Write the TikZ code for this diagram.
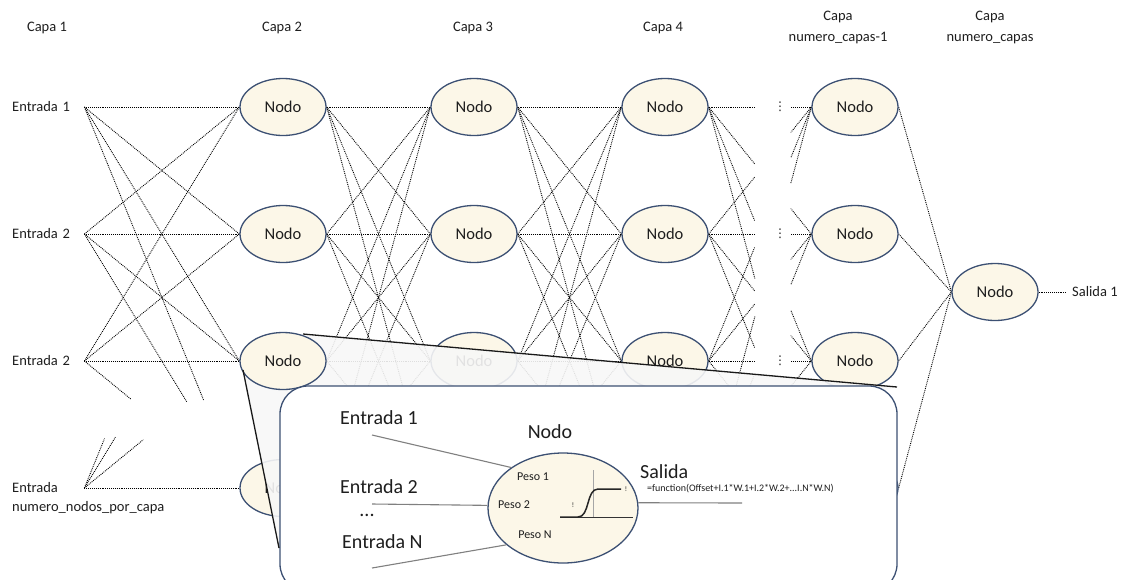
\documentclass[tikz,border=0pt]{standalone}
\usepackage{fontspec}
\setmainfont{Carlito}
\newfontfamily\simbolos{DejaVu Sans}
\usetikzlibrary{calc,shapes.geometric}
\pgfdeclarelayer{fondo}
\pgfsetlayers{fondo,main}
\definecolor{crema}{RGB}{252,247,232}
\definecolor{borde}{RGB}{60,80,115}
\definecolor{texto}{RGB}{30,30,30}
\tikzset{
  nodo/.style={ellipse, draw=borde, fill=crema, line width=1.3pt, minimum width=86pt, minimum height=57pt, inner sep=0pt, text=texto, font=\fontsize{16.5}{16.5}\selectfont},
  capa/.style={inner sep=0pt, align=center, text=texto, font=\fontsize{14.5}{21}\selectfont},
  entrada/.style={inner sep=0pt, anchor=west, text width=72pt, align=left, text=texto, font=\fontsize{14.5}{17}\selectfont},
  conexion/.style={densely dotted, line width=0.9pt, black},
  puntos/.style={inner sep=0pt, text=texto, font=\simbolos\fontsize{12}{12}\selectfont},
  lupa/.style={fill=black!3, fill opacity=0.9},
  lupaborde/.style={line width=1.3pt, black!90},
  caja/.style={draw=borde, line width=1.3pt, fill=white, rounded corners=28pt},
  grande/.style={inner sep=0pt, text=texto, font=\fontsize{20}{20}\selectfont},
  gris/.style={line width=1.1pt, black!50}
}

\begin{document}
\begin{tikzpicture}[x=1pt, y=-1pt]
  \useasboundingbox (0,0) rectangle (1126,579);
  \clip (0,0) rectangle (1126,579);
  %%%%% TITULOS %%%%%
  \node[capa] (c1) at (47,28) {Capa 1};
  \node[capa] (c2) at (282,28) {Capa 2};
  \node[capa] (c3) at (473,28) {Capa 3};
  \node[capa] (c4) at (663,28) {Capa 4};
  \node[capa] (c5) at (838,27) {Capa\\numero\_capas-1};
  \node[capa] (c6) at (990,27) {Capa\\numero\_capas};

  %%%%% ENTRADAS %%%%%
  \node[entrada] (in1) at (12,107) {Entrada 1};
  \node[entrada] (in2) at (12,234) {Entrada 2};
  \node[entrada] (in3) at (12,361) {Entrada 2};
  \node[entrada] (in4) at (12,488) {Entrada};
  \node[entrada, text width=] (in4b) at (12,508) {numero\_nodos\_por\_capa};

  %%%%% NODOS %%%%%
  \node[nodo] (n21) at (283,107) {Nodo};
  \node[nodo] (n22) at (283,234) {Nodo};
  \node[nodo] (n24) at (283,488) {Nodo};
  \foreach \c/\x in {3/474,4/665,5/855}{
    \foreach \r/\y in {1/107,2/234,3/361}{
      \node[nodo] (n\c\r) at (\x,\y) {Nodo};
    }
    % fila oculta bajo el detalle
    \node[nodo] (n\c4) at (\x,488) {};
  }
  \node[nodo] (out) at (995,292) {Nodo};
  \node[capa, anchor=west] (sal) at (1072,292) {Salida 1};
  \node[puntos] (p1) at (780,107) {⋮};
  \node[puntos] (p2) at (780,234) {⋮};
  \node[puntos] (p3) at (780,361) {⋮};

  %%%%% LUPA %%%%%
  \fill[lupa] (243,370) -- (303,334) -- (897,387) -- (279,548) -- cycle;
  \node[nodo] (n23) at (283,361) {Nodo};

  %%%%% CONEXIONES %%%%%
  \begin{pgfonlayer}{fondo}
    \foreach \i in {1,2,3}{
      \foreach \j in {1,2,3}{
        \draw[conexion] (in\i.east) -- (n2\j.west);
      }
    }
    \draw[conexion] (in1.east) -- ($(in1.east)!0.77!(n24.west)$);
    \draw[conexion] (in2.east) -- ($(in2.east)!0.66!(n24.west)$);
    \draw[conexion] (in3.east) -- ($(in3.east)!0.3!(n24.west)$);
    \draw[conexion] (in4.east) -- (n24.west);
    \foreach \j/\f in {1/0.13,2/0.2,3/0.38}{
      \draw[conexion] (in4.east) -- ($(in4.east)!\f!(n2\j.west)$);
    }
    \foreach \a/\b in {2/3,3/4}{
      \foreach \i in {1,...,4}{
        \foreach \j in {1,...,4}{
          \draw[conexion] (n\a\i.east) -- (n\b\j.west);
        }
      }
    }
    \foreach \i in {1,...,4}{
      \foreach \j in {1,...,4}{
        \draw[conexion] (n4\i.east) -- ($(n4\i.east)!0.45!(n5\j.west)$);
        \draw[conexion] (n5\j.west) -- ($(n5\j.west)!0.2!(n4\i.east)$);
      }
    }
    \foreach \j in {1,...,4}{
      \draw[conexion] (n5\j.east) -- (out.west);
    }
    \draw[conexion, shorten >=5pt] (out.east) -- (sal.west);
  \end{pgfonlayer}

  %%%%% DETALLE DEL NODO %%%%%
  \draw[caja] (280,386) rectangle (897,592);
  \draw[lupaborde] (303,334) -- (897,387);
  \draw[lupaborde] (243,370) -- (279,548);

  \node[grande, anchor=west] (te1) at (340,418) {Entrada 1};
  \node[grande, anchor=west] (te2) at (340,487) {Entrada 2};
  \node[grande] (tp) at (367,515) {...};
  \node[grande, anchor=west] (teN) at (342,542) {Entrada N};
  \node[grande] (tnodo) at (550,432) {Nodo};
  \node[grande, anchor=west] (tsal) at (640,472) {Salida};
  \node[inner sep=0pt, anchor=west, text=texto, font=\fontsize{10}{10}\selectfont] (tfun) at (647,489) {=function(Offset+I.1*W.1+I.2*W.2+...I.N*W.N)};

  \node[ellipse, draw=borde, fill=crema, line width=1.3pt, minimum width=150pt, minimum height=110pt] (neu) at (563,508) {};
  \node[inner sep=0pt, text=texto, font=\fontsize{12}{12}\selectfont] (w1) at (533,477) {Peso 1};
  \node[inner sep=0pt, text=texto, font=\fontsize{12}{12}\selectfont] (w2) at (514,505) {Peso 2};
  \node[inner sep=0pt, text=texto, font=\fontsize{12}{12}\selectfont] (wN) at (535,535) {Peso N};

  \coordinate (a1) at (372,435);
  \coordinate (a2) at (372,504);
  \coordinate (aN) at (372,568);
  \coordinate (b) at (742,503);
  \draw[gris] (a1) -- (neu.142);
  \draw[gris] (a2) -- (neu.178);
  \draw[gris] (aN) -- (neu.213);
  \draw[gris] (neu.4) -- (b);

  % sigmoide
  \draw[black!35, line width=0.6pt] (593,470) -- (593,517);
  \draw[black!80, line width=1pt] (560,517) -- (633,517);
  \draw[black!85, line width=1.5pt] (560,517) -- (578,517) .. controls (590,517) and (586,489) .. (598,489) -- (621,489);
  \node[inner sep=0pt, text=texto, font=\fontsize{7}{7}\selectfont] (m0) at (573,505) {!};
  \node[inner sep=0pt, text=texto, font=\fontsize{7}{7}\selectfont] (m1) at (626,489) {!};
\end{tikzpicture}
\end{document}
